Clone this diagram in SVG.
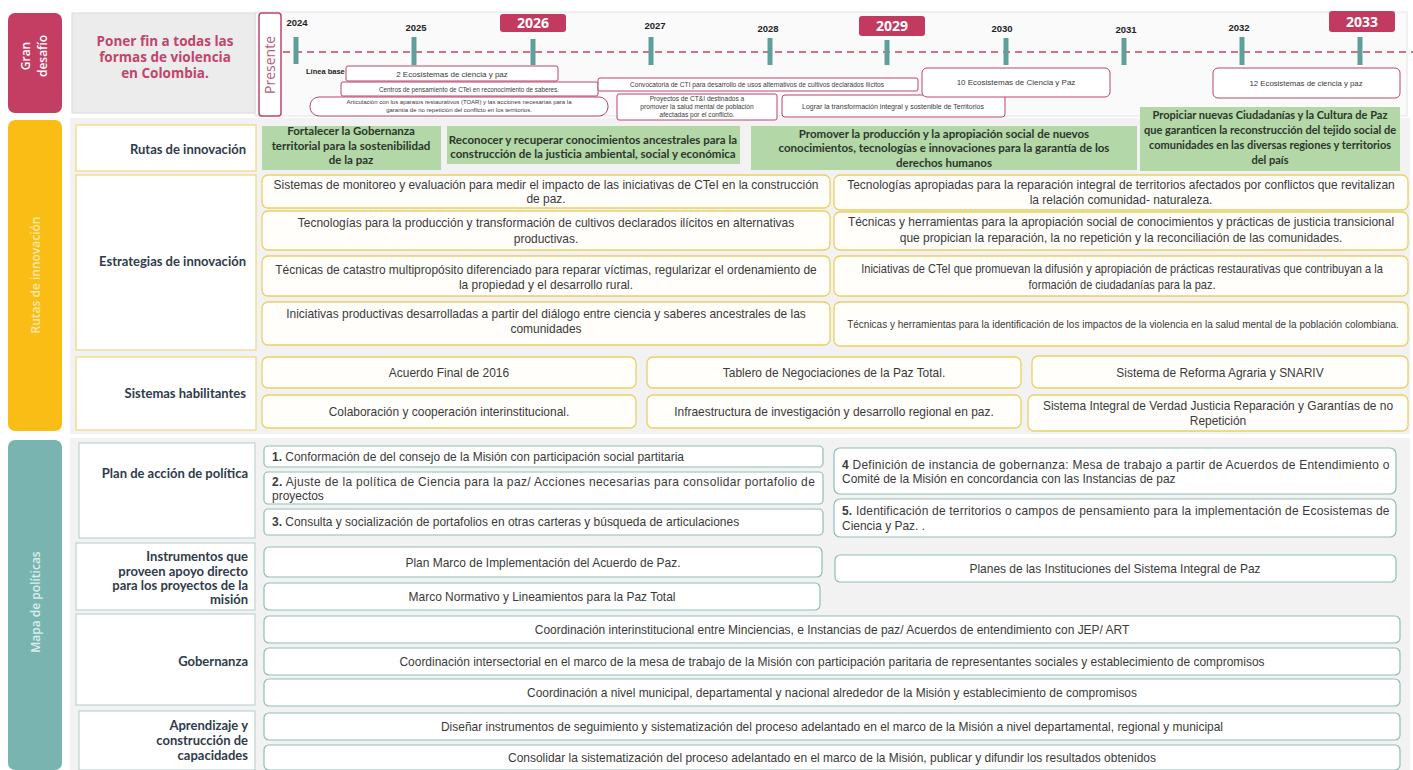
<svg xmlns="http://www.w3.org/2000/svg" width="1413" height="770" viewBox="0 0 1413 770">
<defs>
<style>
  .panel{fill:#f2f2f2}
  .band-r{fill:#c43d63}
  .band-y{fill:#f9bd16}
  .band-t{fill:#7ab4b0}
  .bandtxt{font-family:"Open Sans","Liberation Sans",sans-serif;font-weight:600;font-size:12px;text-anchor:middle}
  .lbl-y{fill:#ffffff;stroke:#f0d67a;stroke-width:1.2}
  .lbl-t{fill:#ffffff;stroke:#bcd5d3;stroke-width:1.2}
  .route{fill:#b3d7a6}
  .box-y{fill:#fffefb;stroke:#ecd064;stroke-width:1.3}
  .box-t{fill:#ffffff;stroke:#8fbdb8;stroke-width:1.2}
  .tl{fill:#ffffff;stroke:#b8456b;stroke-width:1}
  .tick{fill:#5f9f99}
  .yearbox{fill:#c23a5f}
  .lb{font-family:Lato,"Open Sans",sans-serif;font-weight:700;font-size:13px;fill:#2f3b4c;text-anchor:end}
  .gr{font-family:Lato,"Open Sans",sans-serif;font-weight:700;font-size:11.5px;fill:#2c362c;text-anchor:middle}
  .gr.sm{font-size:11px}
  .n{font-family:"Liberation Sans",Arial,sans-serif;fill:#3a3a3a;font-size:13px}
  .n.f12{font-size:12px}
  .n.f11{font-size:11px}
  .c{text-anchor:middle}
  .s{font-family:"Liberation Sans",Arial,sans-serif;fill:#3a3a3a;text-anchor:middle}
  .yr{font-family:"Liberation Sans",Arial,sans-serif;font-weight:700;font-size:9.5px;fill:#222;text-anchor:middle}
  .yw{font-family:"Open Sans","Liberation Sans",sans-serif;font-weight:700;font-size:14px;fill:#fff;text-anchor:middle}
</style>
</defs>
<rect width="1413" height="770" fill="#ffffff"/>

<!-- section backgrounds -->
<rect x="255" y="12" width="1152" height="104" style="fill:#fafafa;stroke:#e4e4e4"/>
<rect class="panel" x="70" y="118" width="1340" height="316"/>
<rect class="panel" x="70" y="438" width="1340" height="332"/>

<!-- Gran desafío -->
<g id="gran-desafio">
  <rect class="band-r" x="8" y="13" width="54" height="100" rx="7"/>
  <text class="bandtxt" fill="#ffffff" transform="translate(30,56) rotate(-90)">Gran</text>
  <text class="bandtxt" fill="#ffffff" transform="translate(47,56) rotate(-90)">desafío</text>
  <rect x="72" y="13" width="183" height="100" fill="#ececec" stroke="#dadada"/>
  <g font-family="'Open Sans','Liberation Sans',sans-serif" font-weight="700" font-size="13.5" fill="#c2436b" text-anchor="middle">
    <text x="165" y="46">Poner fin a todas las</text>
    <text x="165" y="62">formas de violencia</text>
    <text x="165" y="78">en Colombia.</text>
  </g>
</g>

<!-- Timeline -->
<g id="presente">
  <rect x="259" y="13" width="22" height="103" rx="3" fill="#ffffff" stroke="#b9476c" stroke-width="1.5"/>
  <text font-family="'Open Sans','Liberation Sans',sans-serif" font-size="14" fill="#b85a79" text-anchor="middle" transform="translate(275,65) rotate(-90)">Presente</text>
</g>

<g id="connectors">
  <line x1="283" y1="52" x2="1413" y2="52" stroke="#c8465f" stroke-width="1.3" stroke-dasharray="7 5"/>
</g>

<g id="years">
  <rect class="tick" x="293.5" y="37" width="5" height="27"/>
  <rect class="tick" x="411.5" y="37" width="5" height="28"/>
  <rect class="tick" x="530.5" y="39" width="5" height="26"/>
  <rect class="tick" x="648.5" y="37" width="5" height="28"/>
  <rect class="tick" x="767.5" y="38" width="5" height="27"/>
  <rect class="tick" x="884.5" y="40" width="5" height="25"/>
  <rect class="tick" x="1003.5" y="38" width="5" height="27"/>
  <rect class="tick" x="1121.5" y="38" width="5" height="27"/>
  <rect class="tick" x="1239.5" y="37" width="5" height="28"/>
  <rect class="tick" x="1357.5" y="37" width="5" height="28"/>
  <text class="yr" x="297" y="26">2024</text>
  <text class="yr" x="416" y="31">2025</text>
  <text class="yr" x="655" y="29">2027</text>
  <text class="yr" x="768" y="32">2028</text>
  <text class="yr" x="1002" y="32">2030</text>
  <text class="yr" x="1126" y="33">2031</text>
  <text class="yr" x="1239" y="31">2032</text>
  <rect class="yearbox" x="500" y="14" width="66" height="18" rx="3"/>
  <text class="yw" x="533" y="28">2026</text>
  <rect class="yearbox" x="859" y="16" width="66" height="20" rx="3"/>
  <text class="yw" x="892" y="31">2029</text>
  <rect class="yearbox" x="1329" y="11" width="66" height="21" rx="3"/>
  <text class="yw" x="1362" y="27">2033</text>
</g>

<g id="hitos">
  <text font-family="'Liberation Sans',Arial,sans-serif" font-weight="700" font-size="7.5" fill="#222" x="306" y="74">Línea base</text>
  <g id="hito-2eco">
    <rect class="tl" x="346" y="66" width="212" height="15" rx="2"/>
    <text class="s" font-size="8" x="452" y="76.5">2  Ecosistemas de ciencia y paz</text>
  </g>
  <g id="hito-centros">
    <rect class="tl" x="341" y="82" width="257" height="14" rx="2"/>
    <text class="s" font-size="6.3" x="469" y="91.5">Centros de pensamiento de CTeI en reconocimiento de saberes.</text>
  </g>
  <g id="hito-articulacion">
    <rect class="tl" x="310" y="97" width="298" height="19" rx="9"/>
    <text class="s" font-size="6" x="459" y="104">Articulación con los aparatos restaurativos (TOAR) y las acciones necesarias para la</text>
    <text class="s" font-size="6" x="459" y="112">garantía de no repetición del conflicto en los territorios.</text>
  </g>
  <g id="hito-convocatoria">
    <rect class="tl" x="598" y="78" width="320" height="13" rx="2"/>
    <text class="s" font-size="6.6" x="757" y="87">Convocatoria de CTI para desarrollo de usos alternativos de cultivos declarados ilícitos</text>
  </g>
  <g id="hito-proyectos">
    <rect class="tl" x="617" y="94" width="160" height="26" rx="2"/>
    <text class="s" font-size="6.6" x="697" y="101">Proyectos de CT&amp;I destinados a</text>
    <text class="s" font-size="6.6" x="697" y="109">promover la salud mental de población</text>
    <text class="s" font-size="6.6" x="697" y="117">afectadas por el conflicto.</text>
  </g>
  <g id="hito-lograr">
    <rect class="tl" x="782" y="95" width="223" height="22" rx="3"/>
    <text class="s" font-size="7" x="893" y="108.5">Lograr la transformación integral y sostenible de Territorios</text>
  </g>
  <g id="hito-10eco">
    <rect class="tl" x="922" y="68" width="188" height="29" rx="5"/>
    <text class="s" font-size="8" x="1016" y="85">10 Ecosistemas de Ciencia y Paz</text>
  </g>
  <g id="hito-12eco">
    <rect class="tl" x="1213" y="68" width="187" height="30" rx="5"/>
    <text class="s" font-size="7.8" x="1306" y="86">12 Ecosistemas de ciencia y paz</text>
  </g>
</g>

<!-- Rutas de innovación -->
<g id="rutas-band">
  <rect class="band-y" x="8" y="120" width="54" height="311" rx="7"/>
  <text class="bandtxt" fill="#fde7a4" transform="translate(40,275) rotate(-90)">Rutas de innovación</text>
</g>

<g id="rutas">
  <rect class="lbl-y" x="76" y="125" width="180" height="46"/>
  <text class="lb" x="246" y="154">Rutas de innovación</text>
  <g id="ruta-1">
    <rect class="route" x="262" y="126" width="179" height="44"/>
    <text class="gr" x="351" y="135">Fortalecer la Gobernanza</text>
    <text class="gr" x="351" y="150">territorial para la sostenibilidad</text>
    <text class="gr" x="351" y="164">de la paz</text>
  </g>
  <g id="ruta-2">
    <rect class="route" x="447" y="126" width="293" height="38"/>
    <text class="gr" x="593" y="144">Reconocer y recuperar conocimientos ancestrales para la</text>
    <text class="gr" x="593" y="158">construcción de la justicia ambiental, social y económica</text>
  </g>
  <g id="ruta-3">
    <rect class="route" x="751" y="126" width="386" height="44"/>
    <text class="gr" x="944" y="138">Promover la producción y la apropiación social de nuevos</text>
    <text class="gr" x="944" y="152">conocimientos, tecnologías e innovaciones para la garantía de los</text>
    <text class="gr" x="944" y="167">derechos humanos</text>
  </g>
  <g id="ruta-4">
    <rect class="route" x="1140" y="107" width="260" height="64"/>
    <text class="gr sm" x="1270" y="119">Propiciar nuevas Ciudadanías y la Cultura de Paz</text>
    <text class="gr sm" x="1270" y="134">que garanticen la reconstrucción del tejido social de</text>
    <text class="gr sm" x="1270" y="149">comunidades en las diversas regiones y territorios</text>
    <text class="gr sm" x="1270" y="164">del país</text>
  </g>
</g>

<g id="estrategias">
  <rect class="lbl-y" x="76" y="175" width="180" height="175"/>
  <text class="lb" x="246" y="266">Estrategias de innovación</text>
  <g id="est-1">
    <rect class="box-y" x="262" y="175" width="568" height="33" rx="6"/>
    <text class="n c" transform="translate(546 189) scale(.92 1)">Sistemas de monitoreo y evaluación para medir el impacto de las iniciativas de CTeI en la construcción</text>
    <text class="n c" transform="translate(546 203) scale(.92 1)">de paz.</text>
  </g>
  <g id="est-2">
    <rect class="box-y" x="262" y="211" width="568" height="39" rx="6"/>
    <text class="n c" transform="translate(546 227) scale(.92 1)">Tecnologías para la producción y transformación de cultivos declarados ilícitos en alternativas</text>
    <text class="n c" transform="translate(546 243) scale(.92 1)">productivas.</text>
  </g>
  <g id="est-3">
    <rect class="box-y" x="262" y="256" width="568" height="40" rx="6"/>
    <text class="n c" transform="translate(546 274) scale(.92 1)">Técnicas de catastro multipropósito diferenciado para reparar víctimas, regularizar el ordenamiento de</text>
    <text class="n c" transform="translate(546 289) scale(.92 1)">la propiedad y el desarrollo rural.</text>
  </g>
  <g id="est-4">
    <rect class="box-y" x="262" y="302" width="568" height="43" rx="6"/>
    <text class="n c" transform="translate(546 318) scale(.92 1)">Iniciativas productivas desarrolladas a partir del diálogo entre ciencia y saberes ancestrales de las</text>
    <text class="n c" transform="translate(546 333) scale(.92 1)">comunidades</text>
  </g>
  <g id="est-5">
    <rect class="box-y" x="834" y="175" width="574" height="35" rx="6"/>
    <text class="n c" transform="translate(1121 189) scale(.92 1)">Tecnologías apropiadas para la reparación integral de territorios afectados por conflictos que revitalizan</text>
    <text class="n c" transform="translate(1121 204) scale(.92 1)">la relación comunidad- naturaleza.</text>
  </g>
  <g id="est-6">
    <rect class="box-y" x="834" y="212" width="574" height="38" rx="6"/>
    <text class="n c" transform="translate(1121 226) scale(.92 1)">Técnicas y herramientas para la apropiación social de conocimientos y prácticas de justicia transicional</text>
    <text class="n c" transform="translate(1121 242) scale(.92 1)">que propician la reparación, la no repetición y la reconciliación de las comunidades.</text>
  </g>
  <g id="est-7">
    <rect class="box-y" x="834" y="256" width="574" height="40" rx="6"/>
    <text class="n f12 c" transform="translate(1122 273) scale(.92 1)">Iniciativas de CTeI que promuevan la difusión y apropiación de prácticas restaurativas que contribuyan a la</text>
    <text class="n f12 c" transform="translate(1122 289) scale(.92 1)">formación de ciudadanías para la paz.</text>
  </g>
  <g id="est-8">
    <rect class="box-y" x="834" y="302" width="574" height="44" rx="6"/>
    <text class="n f11 c" transform="translate(1123 328) scale(.91 1)">Técnicas y herramientas para la identificación de los impactos de la violencia en la salud mental de la población colombiana.</text>
  </g>
</g>

<g id="sistemas">
  <rect class="lbl-y" x="76" y="357" width="180" height="73"/>
  <text class="lb" x="246" y="398">Sistemas habilitantes</text>
  <g id="sis-1"><rect class="box-y" x="262" y="357" width="374" height="31" rx="6"/><text class="n c" transform="translate(449 377) scale(.92 1)">Acuerdo Final de 2016</text></g>
  <g id="sis-2"><rect class="box-y" x="647" y="357" width="374" height="31" rx="6"/><text class="n c" transform="translate(834 377) scale(.92 1)">Tablero de Negociaciones de la Paz Total.</text></g>
  <g id="sis-3"><rect class="box-y" x="1032" y="356" width="376" height="32" rx="6"/><text class="n c" transform="translate(1220 377) scale(.92 1)">Sistema de Reforma Agraria y SNARIV</text></g>
  <g id="sis-4"><rect class="box-y" x="262" y="395" width="374" height="33" rx="6"/><text class="n c" transform="translate(449 416) scale(.92 1)">Colaboración y cooperación interinstitucional.</text></g>
  <g id="sis-5"><rect class="box-y" x="647" y="395" width="374" height="33" rx="6"/><text class="n c" transform="translate(834 416) scale(.92 1)">Infraestructura de investigación y desarrollo regional en paz.</text></g>
  <g id="sis-6"><rect class="box-y" x="1028" y="395" width="380" height="36" rx="6"/>
    <text class="n c" transform="translate(1218 410) scale(.92 1)">Sistema Integral de Verdad Justicia Reparación y Garantías de no</text>
    <text class="n c" transform="translate(1218 425) scale(.92 1)">Repetición</text></g>
</g>

<!-- Mapa de políticas -->
<g id="mapa-band">
  <rect class="band-t" x="8" y="440" width="54" height="330" rx="7"/>
  <text class="bandtxt" fill="#d9eeec" transform="translate(40,602) rotate(-90)">Mapa de políticas</text>
</g>

<g id="plan-accion">
  <rect class="lbl-t" x="79" y="443" width="176" height="95"/>
  <text class="lb" x="248" y="478">Plan de acción de política</text>
  <g id="plan-1"><rect class="box-t" x="264" y="446" width="559" height="21" rx="4"/>
    <text class="n" transform="translate(272 460.5) scale(.92 1)"><tspan font-weight="700">1.</tspan> Conformación de del consejo de la Misión con participación social partitaria</text></g>
  <g id="plan-2"><rect class="box-t" x="264" y="472" width="559" height="32" rx="4"/>
    <text class="n" transform="translate(272 486) scale(.92 1)" textLength="590"><tspan font-weight="700">2.</tspan> Ajuste de la política de Ciencia para la paz/ Acciones necesarias para consolidar portafolio de</text>
    <text class="n" transform="translate(272 500) scale(.92 1)">proyectos</text></g>
  <g id="plan-3"><rect class="box-t" x="264" y="509" width="559" height="26" rx="4"/>
    <text class="n" transform="translate(272 526) scale(.92 1)"><tspan font-weight="700">3.</tspan> Consulta y socialización de portafolios en otras carteras y búsqueda de articulaciones</text></g>
  <g id="plan-4"><rect class="box-t" x="834" y="448" width="562" height="46" rx="6"/>
    <text class="n" transform="translate(842 469) scale(.92 1)" textLength="595"><tspan font-weight="700">4</tspan>  Definición de instancia de gobernanza: Mesa de trabajo a partir de Acuerdos de Entendimiento o</text>
    <text class="n" transform="translate(842 483) scale(.92 1)">Comité de la Misión en concordancia con las Instancias de paz</text></g>
  <g id="plan-5"><rect class="box-t" x="834" y="499" width="562" height="38" rx="6"/>
    <text class="n" transform="translate(842 515) scale(.92 1)" textLength="595"><tspan font-weight="700">5.</tspan> Identificación de territorios o campos de pensamiento para la implementación de Ecosistemas de</text>
    <text class="n" transform="translate(842 530) scale(.92 1)">Ciencia y Paz. .</text></g>
</g>

<g id="instrumentos">
  <rect class="lbl-t" x="76" y="543" width="179" height="67"/>
  <text class="lb" x="248" y="561">Instrumentos que</text>
  <text class="lb" x="248" y="576">proveen apoyo directo</text>
  <text class="lb" x="248" y="590">para los proyectos de la</text>
  <text class="lb" x="248" y="604">misión</text>
  <g id="ins-1"><rect class="box-t" x="264" y="547" width="558" height="30" rx="5"/><text class="n c" transform="translate(543 567) scale(.92 1)">Plan Marco de Implementación del Acuerdo de Paz.</text></g>
  <g id="ins-2"><rect class="box-t" x="264" y="583" width="556" height="27" rx="5"/><text class="n c" transform="translate(542 601) scale(.92 1)">Marco Normativo y Lineamientos para la Paz Total</text></g>
  <g id="ins-3"><rect class="box-t" x="835" y="555" width="561" height="27" rx="5"/><text class="n c" transform="translate(1115 573) scale(.92 1)">Planes de las Instituciones del Sistema Integral de Paz</text></g>
</g>

<g id="gobernanza">
  <rect class="lbl-t" x="76" y="614" width="179" height="91"/>
  <text class="lb" x="248" y="666">Gobernanza</text>
  <g id="gob-1"><rect class="box-t" x="264" y="616" width="1136" height="27" rx="5"/><text class="n c" transform="translate(832 634) scale(.92 1)">Coordinación interinstitucional entre Minciencias, e Instancias de paz/ Acuerdos de entendimiento con JEP/ ART</text></g>
  <g id="gob-2"><rect class="box-t" x="264" y="648" width="1136" height="27" rx="5"/><text class="n c" transform="translate(832 666) scale(.92 1)">Coordinación intersectorial en el marco de la mesa de trabajo de la Misión con participación paritaria de representantes sociales y establecimiento de compromisos</text></g>
  <g id="gob-3"><rect class="box-t" x="264" y="679" width="1136" height="27" rx="5"/><text class="n c" transform="translate(832 697) scale(.92 1)">Coordinación a nivel municipal, departamental y nacional alrededor de la Misión y establecimiento de compromisos</text></g>
</g>

<g id="aprendizaje">
  <rect class="lbl-t" x="79" y="711" width="176" height="59"/>
  <text class="lb" x="248" y="730">Aprendizaje y</text>
  <text class="lb" x="248" y="745">construcción de</text>
  <text class="lb" x="248" y="760">capacidades</text>
  <g id="apr-1"><rect class="box-t" x="264" y="713" width="1136" height="27" rx="5"/><text class="n c" transform="translate(832 731) scale(.92 1)">Diseñar instrumentos de seguimiento y sistematización del proceso adelantado en el marco de la Misión a nivel departamental, regional y municipal</text></g>
  <g id="apr-2"><rect class="box-t" x="264" y="745" width="1136" height="25" rx="5"/><text class="n c" transform="translate(832 762) scale(.92 1)">Consolidar la sistematización del proceso adelantado en el marco de la Misión, publicar y difundir los resultados obtenidos</text></g>
</g>
</svg>
